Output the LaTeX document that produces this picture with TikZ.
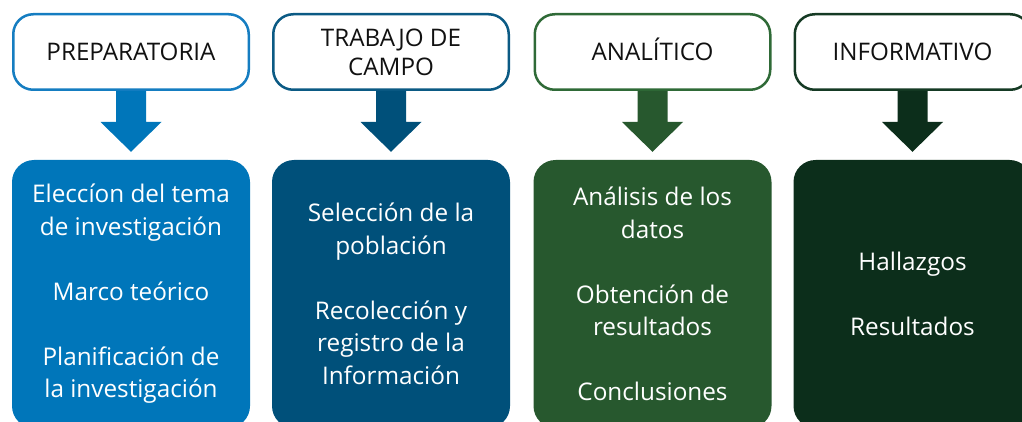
\documentclass[tikz,border=0pt]{standalone}
\usepackage{fontspec}
\setmainfont{Open Sans}
\usetikzlibrary{calc}
\definecolor{fA}{HTML}{0076BA}
\definecolor{bA}{HTML}{157DC1}
\definecolor{fB}{HTML}{00507A}
\definecolor{bB}{HTML}{0B5A84}
\definecolor{fC}{HTML}{27582E}
\definecolor{bC}{HTML}{2F6A37}
\definecolor{fD}{HTML}{0C2E1B}
\definecolor{bD}{HTML}{153A24}
\definecolor{ink}{HTML}{111111}
\tikzset{
  phase/.style={draw=#1, line width=2.5pt, fill=white, rounded corners=20pt,
    minimum width=235.5pt, minimum height=75.5pt, align=center, inner sep=0pt,
    font=\fontsize{24.2}{29}\selectfont, text=ink},
  stage/.style={fill=#1, rounded corners=22pt, minimum width=238pt,
    minimum height=268pt, align=center, inner sep=0pt,
    font=\fontsize{24.3}{32.5}\selectfont, text=white},
}
\newcommand\flowarrow[3]{%
  \fill[#3] ($(#1.south)+(-15,0)$) -- ($(#1.south)+(-15,31)$)
    -- ($(#1.south)+(-30.5,31)$) -- ($(#2.north)+(0,-8)$)
    -- ($(#1.south)+(30.5,31)$) -- ($(#1.south)+(15,31)$)
    -- ($(#1.south)+(15,0)$) -- cycle;}
\begin{document}
\begin{tikzpicture}[x=1pt,y=-1pt]
\useasboundingbox (0,0) rectangle (1022,422);
\clip (0,0) rectangle (1022,422);
\node[phase=bA] (t1) at (131,52) {PREPARATORIA};
\node[phase=bB] (t2) at (391,52) {TRABAJO DE\\CAMPO};
\node[phase=bC] (t3) at (652.5,52) {\raisebox{0pt}[\fontcharht\font`A]{ANALÍTICO}};
\node[phase=bD] (t4) at (912.5,52) {INFORMATIVO};
\node[stage=fA] (s1) at (131,294) {Eleccíon del tema\\de investigación\\[32.5pt]Marco teórico\\[32.5pt]Planificación de\\la investigación};
\node[stage=fB] (s2) at (391,294) {Selección de la\\población\\[32.5pt]Recolección y\\registro de la\\Información};
\node[stage=fC] (s3) at (652.5,294) {Análisis de los\\datos\\[32.5pt]Obtención de\\resultados\\[32.5pt]Conclusiones};
\node[stage=fD] (s4) at (912.5,294) {Hallazgos\\[32.5pt]Resultados};
\flowarrow{t1}{s1}{fA}
\flowarrow{t2}{s2}{fB}
\flowarrow{t3}{s3}{fC}
\flowarrow{t4}{s4}{fD}
\end{tikzpicture}
\end{document}
